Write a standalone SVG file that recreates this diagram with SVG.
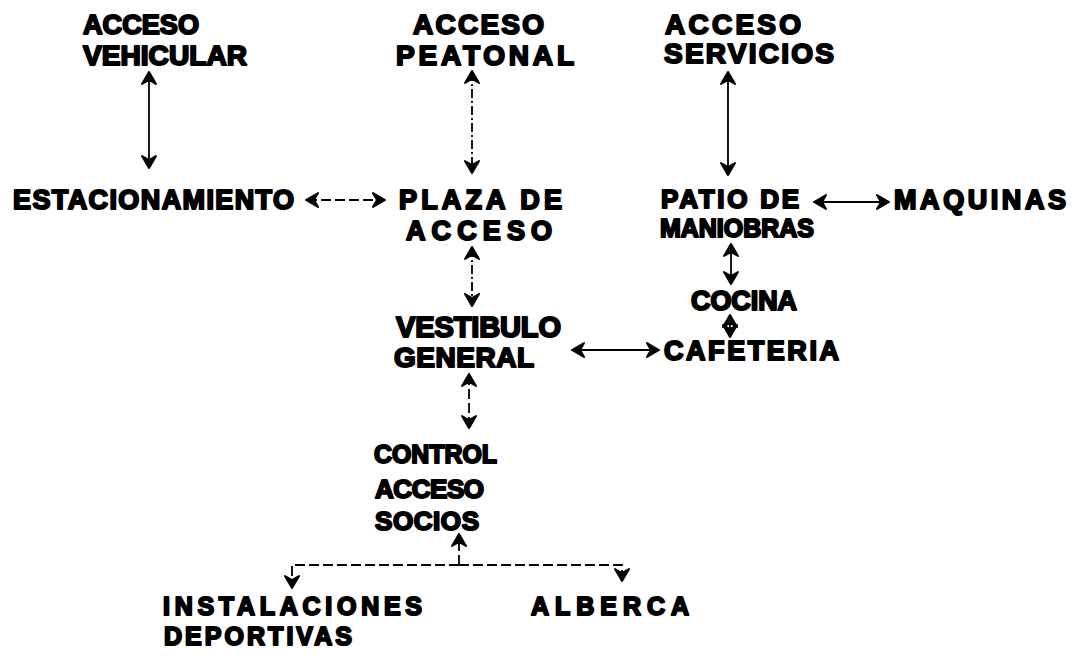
<svg xmlns="http://www.w3.org/2000/svg" width="1073" height="660" viewBox="0 0 1073 660">
<style>
text{font-family:"Liberation Sans",Arial,sans-serif;font-weight:bold;fill:#000;stroke:#000;stroke-width:2;stroke-linejoin:round}
.c{fill:none;stroke:#000;stroke-width:1.8}
.d{stroke-dasharray:10 4}
.dd{stroke-dasharray:9 3 2 3}
</style>
<defs>
<marker id="ah" viewBox="-13 -9 15 18" markerWidth="15" markerHeight="18" refX="0" refY="0" orient="auto-start-reverse" markerUnits="userSpaceOnUse">
<path d="M1,0 L-11,-7 L-7,0 L-11,7 Z" fill="#000" stroke="#000" stroke-width="2" stroke-linejoin="round"/>
</marker>
</defs>
<rect width="1073" height="660" fill="#fff"/>
<g id="acceso-vehicular"><text x="83" y="34" font-size="28" textLength="116" lengthAdjust="spacingAndGlyphs">ACCESO</text><text x="83" y="65" font-size="28" textLength="164" lengthAdjust="spacingAndGlyphs">VEHICULAR</text></g>
<g id="acceso-peatonal"><text x="413" y="34" font-size="28" textLength="131">ACCESO</text><text x="396" y="65" font-size="28" textLength="178">PEATONAL</text></g>
<g id="acceso-servicios"><text x="665" y="34" font-size="28" textLength="136">ACCESO</text><text x="664" y="63" font-size="28" textLength="170">SERVICIOS</text></g>
<g id="estacionamiento"><text x="13" y="209" font-size="27" textLength="281">ESTACIONAMIENTO</text></g>
<g id="plaza-acceso"><text x="399" y="209" font-size="27" textLength="163">PLAZA DE</text><text x="406" y="240" font-size="27" textLength="146">ACCESO</text></g>
<g id="patio-maniobras"><text x="661" y="208" font-size="26" textLength="138">PATIO DE</text><text x="660" y="237" font-size="25" textLength="154" lengthAdjust="spacingAndGlyphs">MANIOBRAS</text></g>
<g id="maquinas"><text x="894" y="209" font-size="27" textLength="172">MAQUINAS</text></g>
<g id="cocina"><text x="691" y="310" font-size="27" textLength="106" lengthAdjust="spacingAndGlyphs">COCINA</text></g>
<g id="cafeteria"><text x="664" y="360" font-size="27" textLength="175">CAFETERIA</text></g>
<g id="vestibulo-general"><text x="396" y="337" font-size="29" textLength="165">VESTIBULO</text><text x="394" y="367" font-size="28" textLength="140">GENERAL</text></g>
<g id="control-acceso-socios"><text x="374" y="463" font-size="26" textLength="123" lengthAdjust="spacingAndGlyphs">CONTROL</text><text x="375" y="498" font-size="26" textLength="109">ACCESO</text><text x="375" y="530" font-size="26" textLength="104">SOCIOS</text></g>
<g id="instalaciones-deportivas"><text x="163" y="615" font-size="25" textLength="259">INSTALACIONES</text><text x="164" y="645" font-size="25" textLength="188">DEPORTIVAS</text></g>
<g id="alberca"><text x="531" y="615" font-size="25" textLength="158">ALBERCA</text></g>
<g id="connectors">
<path class="c" d="M149,73 V167" marker-start="url(#ah)" marker-end="url(#ah)"/>
<path class="c dd" d="M472,72 V172" marker-start="url(#ah)" marker-end="url(#ah)"/>
<path class="c" d="M728,73 V174" marker-start="url(#ah)" marker-end="url(#ah)"/>
<path class="c d" d="M307,200 H384" marker-start="url(#ah)" marker-end="url(#ah)"/>
<path class="c" d="M815,202 H888" marker-start="url(#ah)" marker-end="url(#ah)"/>
<path class="c dd" d="M472,248 V305" marker-start="url(#ah)" marker-end="url(#ah)"/>
<path class="c" d="M731,245 V283" marker-start="url(#ah)" marker-end="url(#ah)"/>
<path class="c" d="M730,316 V336" marker-start="url(#ah)" marker-end="url(#ah)"/>
<path class="c" d="M573,350 H658" marker-start="url(#ah)" marker-end="url(#ah)"/>
<path class="c d" d="M469,375 V427" marker-start="url(#ah)" marker-end="url(#ah)"/>
<path class="c d" d="M459,565 V535" marker-end="url(#ah)"/>
<path class="c d" d="M459,565 H292 V587" marker-end="url(#ah)"/>
<path class="c d" d="M459,565 H622 V580" marker-end="url(#ah)"/>
</g>
</svg>
